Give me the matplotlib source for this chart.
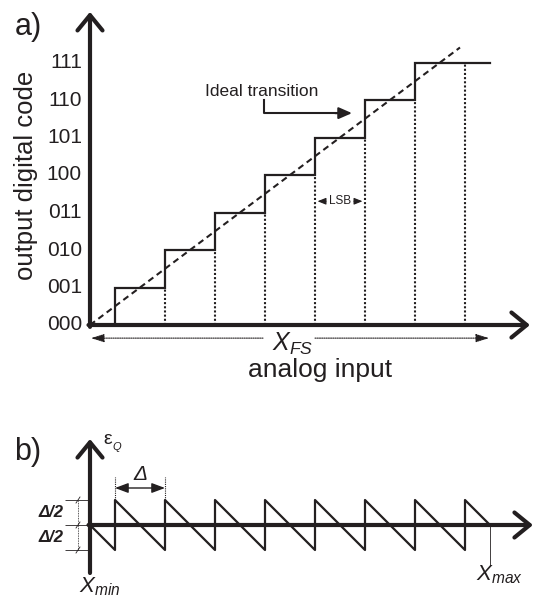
import matplotlib.pyplot as plt
import numpy as np

plt.rcParams['font.family'] = ['Liberation Sans', 'DejaVu Sans']
plt.rcParams['mathtext.fontset'] = 'custom'
plt.rcParams['mathtext.rm'] = 'Liberation Sans'
plt.rcParams['mathtext.it'] = 'Liberation Sans:italic'
plt.rcParams['mathtext.bf'] = 'Liberation Sans:bold'

INK = '#231f20'

# a) 3-bit quantizer transfer characteristic (x in LSB units)
codes = ['000', '001', '010', '011', '100', '101', '110', '111']
code_levels = list(range(len(codes)))
transitions = [0.5, 1.5, 2.5, 3.5, 4.5, 5.5, 6.5]   # code k -> k+1
x_full_scale = 8.0
dotted_x = [1.5, 2.5, 3.5, 4.5, 5.5, 6.5, 7.5]
dotted_top = [1, 2, 3, 4, 5, 6, 7]
ideal_end = 7.4

# b) quantization error, jumps every LSB
error_jumps = [0.5, 1.5, 2.5, 3.5, 4.5, 5.5, 6.5, 7.5]
half_lsb = 0.5

W, H = 536, 602
fig = plt.figure(figsize=(W / 100, H / 100), dpi=100)

# panel a covers the top 400 px, origin at pixel (90, 325); 50 px per LSB, 37.5 px per code
ax = fig.add_axes([0, 202 / H, 1, 400 / H])
ax.set_xlim(-90 / 50, (W - 90) / 50)
ax.set_ylim((325 - 400) / 37.5, 325 / 37.5)
ax.axis('off')

# axes with open arrowheads
axis_arrow = dict(arrowstyle='->,head_length=0.55,head_width=0.45', lw=3, color=INK,
                  shrinkA=0, shrinkB=0, mutation_scale=20)
ax.annotate('', xy=(0, 8.35), xytext=(0, -0.05), arrowprops=axis_arrow)
ax.annotate('', xy=(8.8, 0), xytext=(-0.03, 0), arrowprops=axis_arrow)

# staircase
sx = [transitions[0]] + transitions + [x_full_scale]
sy = [0] + [c for c in code_levels[1:]] + [code_levels[-1]]
ax.step(sx, sy, where='post', color=INK, lw=1.6, solid_joinstyle='miter')

# dotted drop lines
ax.vlines(dotted_x, 0, dotted_top, colors=INK, lw=1.5, linestyles=(0, (1, 1)))

# ideal transition line
ax.plot([0, ideal_end], [0, ideal_end], color=INK, lw=1.5, ls=(0, (3, 2)))

# code labels
for lvl, lab in zip(code_levels, codes):
    ax.text(-0.16, lvl, lab, ha='right', va='center', fontsize=15, color=INK)

ax.text(-1.28, 4.0, 'output digital code', rotation=90, ha='center', va='center',
        fontsize=18.5, color=INK)
ax.text(-1.24, 7.95, 'a)', ha='center', va='center', fontsize=22, color=INK)

# full-scale span, split around its label
span_arrow = dict(arrowstyle='-|>,head_length=0.8,head_width=0.25', lw=0.8,
                  ls=(0, (1, 1)), color=INK, shrinkA=0, shrinkB=0)
ax.annotate('', xy=(0.02, -0.35), xytext=(3.46, -0.35), arrowprops=span_arrow)
ax.annotate('', xy=(x_full_scale - 0.02, -0.35), xytext=(4.5, -0.35), arrowprops=span_arrow)
ax.text(4.05, -0.5, r'$X_{FS}$', ha='center', va='center', fontsize=18, color=INK)
ax.text(4.6, -1.2, 'analog input', ha='center', va='center', fontsize=19, color=INK)

# ideal transition callout
ax.text(2.3, 6.24, 'Ideal transition', ha='left', va='center', fontsize=12.5, color=INK)
ax.plot([3.48, 3.48, 5.0], [6.0, 5.65, 5.65], color=INK, lw=1.5)
ax.annotate('', xy=(5.24, 5.65), xytext=(4.9, 5.65),
            arrowprops=dict(arrowstyle='-|>,head_length=0.8,head_width=0.35', lw=1.5,
                            color=INK, shrinkA=0, shrinkB=0))

# LSB width marker
ax.text(5.0, 3.3, 'LSB', ha='center', va='center', fontsize=8.5, color=INK)
lsb_arrow = dict(arrowstyle='-|>,head_length=0.5,head_width=0.2', lw=0.8, color=INK,
                 shrinkA=0, shrinkB=0)
ax.annotate('', xy=(4.55, 3.3), xytext=(4.72, 3.3), arrowprops=lsb_arrow)
ax.annotate('', xy=(5.45, 3.3), xytext=(5.28, 3.3), arrowprops=lsb_arrow)

# panel b covers the bottom 202 px, origin at pixel (90, 525); 50 px per LSB
bx = fig.add_axes([0, 0, 1, 202 / H])
bx.set_xlim(-90 / 50, (W - 90) / 50)
bx.set_ylim((525 - 602) / 50, (525 - 400) / 50)
bx.axis('off')

bx.annotate('', xy=(0, 1.72), xytext=(0, -0.96), arrowprops=axis_arrow)
bx.annotate('', xy=(8.86, 0), xytext=(-0.03, 0), arrowprops=axis_arrow)

# sawtooth error
ex = [0.0]
ey = [0.0]
for j in error_jumps:
    ex += [j, j]
    ey += [-half_lsb, half_lsb]
ex.append(x_full_scale)
ey.append(0.0)
bx.plot(ex, ey, color=INK, lw=1.6)

# delta dimension
bx.vlines([0.5, 1.5], half_lsb, 0.96, colors=INK, lw=0.8, linestyles=(0, (1, 1)))
bx.annotate('', xy=(0.5, 0.74), xytext=(1.5, 0.74),
            arrowprops=dict(arrowstyle='<|-|>,head_length=0.8,head_width=0.3', lw=1.0,
                            color=INK, shrinkA=0, shrinkB=0))
bx.text(1.0, 1.0, 'Δ', ha='center', va='center', fontsize=15, style='italic', color=INK)

# half-step dimension on the left
bx.hlines([half_lsb, 0, -half_lsb], -0.5, 0, colors=INK, lw=0.6)
bx.plot([-0.24, -0.24], [-half_lsb, half_lsb], color=INK, lw=0.6, ls=(0, (1, 1)))
for yy in [half_lsb, 0, -half_lsb]:
    bx.plot([-0.28, -0.20], [yy - 0.06, yy + 0.06], color=INK, lw=0.6)
bx.text(-0.52, 0.25, 'Δ/2', ha='right', va='center', fontsize=12, style='italic',
        weight='bold', color=INK)
bx.text(-0.52, -0.25, 'Δ/2', ha='right', va='center', fontsize=12, style='italic',
        weight='bold', color=INK)

bx.text(0.26, 1.7, r'$\mathrm{\varepsilon}$', ha='left', va='center', fontsize=14, color=INK)
bx.text(0.44, 1.55, 'Q', ha='left', va='center', fontsize=8, style='italic', color=INK)
bx.text(-1.24, 1.46, 'b)', ha='center', va='center', fontsize=22, color=INK)

# range end labels
bx.text(0.2, -1.24, r'$X_{min}$', ha='center', va='center', fontsize=16, color=INK)
bx.plot([x_full_scale, x_full_scale], [0, -0.8], color=INK, lw=0.6)
bx.text(x_full_scale + 0.2, -1.0, r'$X_{max}$', ha='center', va='center',
        fontsize=16, color=INK)

fig.savefig('out.png', dpi=100)
